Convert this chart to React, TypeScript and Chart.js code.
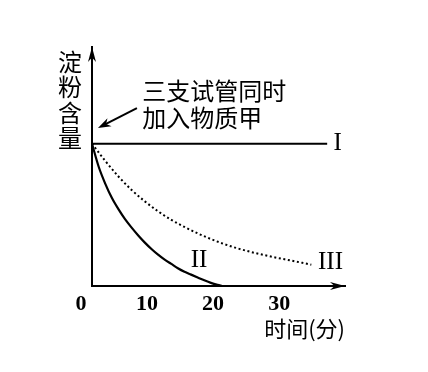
import React, { useEffect, useRef } from "react";
import Chart from "chart.js/auto";

// ---- data ----
const xTicks = [0, 10, 20, 30];
const lineIX = [0, 35.6];
const lineIY = [100, 100];
const curveIIX = [0, 1, 2, 3, 4, 5, 6, 7, 8, 9, 10, 11, 12, 13, 14, 15, 16, 17, 18, 19, 19.7];
const curveIIY = [100, 84, 72, 62, 54, 47, 41, 35.5, 30.5, 26, 22, 18.5, 15.5, 12.5, 10, 8, 6, 4, 2.2, 0.8, 0];
const curveIIIX = [0, 2, 4, 6, 8, 10, 12, 14, 16, 18, 20, 22, 24, 26, 28, 30, 33.2];
const curveIIIY = [100, 88, 77, 67.5, 59.5, 52.5, 46.5, 41.5, 37, 33, 29.5, 26.5, 24, 21.8, 19.8, 18, 15];
const seriesLabels = ["I", "II", "III"];
const yTitleChars = ["淀", "粉", "含", "量"];
const xTitle = "时间(分)";
const noteLines = ["三支试管同时", "加入物质甲"];

const CJK = '"Noto Sans CJK SC", sans-serif';
const SERIF = '"Liberation Serif", "DejaVu Serif", serif';

const pts = (xs: number[], ys: number[]) => xs.map((x, i) => ({ x, y: ys[i] }));

const decorPlugin = {
  id: "decor",
  afterDraw(chart: any) {
    const { ctx, chartArea } = chart;
    const xs = chart.scales.x;
    const ys = chart.scales.y;
    const L = chartArea.left;
    const B = chartArea.bottom;
    ctx.save();
    ctx.fillStyle = "#000";
    ctx.strokeStyle = "#000";
    // arrowheads
    const arrow = (tx: number, ty: number, dx: number, dy: number, len: number, hw: number) => {
      const px = -dy, py = dx;
      ctx.beginPath();
      ctx.moveTo(tx, ty);
      ctx.lineTo(tx - dx * len + px * hw, ty - dy * len + py * hw);
      ctx.lineTo(tx - dx * len * 0.7, ty - dy * len * 0.7);
      ctx.lineTo(tx - dx * len - px * hw, ty - dy * len - py * hw);
      ctx.closePath();
      ctx.fill();
    };
    arrow(L, chartArea.top, 0, -1, 15, 4);
    arrow(chartArea.right, B, 1, 0, 15, 4);

    // annotation arrow
    const ax1 = xs.getPixelForValue(6.8), ay1 = ys.getPixelForValue(125);
    const ax2 = xs.getPixelForValue(0.9), ay2 = ys.getPixelForValue(111);
    const d = Math.hypot(ax2 - ax1, ay2 - ay1);
    const ux = (ax2 - ax1) / d, uy = (ay2 - ay1) / d;
    ctx.lineWidth = 2;
    ctx.beginPath();
    ctx.moveTo(ax1, ay1);
    ctx.lineTo(ax2 - ux * 8, ay2 - uy * 8);
    ctx.stroke();
    arrow(ax2, ay2, ux, uy, 13, 4.5);

    // annotation text
    ctx.font = `24px ${CJK}`;
    ctx.textAlign = "left";
    ctx.textBaseline = "middle";
    ctx.fillText(noteLines[0], xs.getPixelForValue(7.6), ys.getPixelForValue(137));
    ctx.fillText(noteLines[1], xs.getPixelForValue(7.6), ys.getPixelForValue(118));

    // y title stacked
    ctx.textAlign = "center";
    yTitleChars.forEach((c, i) => {
      ctx.fillText(c, L - 22, chartArea.top + 15 + i * 25.3);
    });

    // series labels
    ctx.font = `25px ${SERIF}`;
    ctx.fillText(seriesLabels[0], xs.getPixelForValue(37.2), ys.getPixelForValue(100));
    ctx.fillText(seriesLabels[1], xs.getPixelForValue(16.2), ys.getPixelForValue(18.2));
    ctx.fillText(seriesLabels[2], xs.getPixelForValue(36.1), ys.getPixelForValue(16.4));
    ctx.restore();
  },
};

export default function App() {
  const ref = useRef<HTMLCanvasElement | null>(null);
  useEffect(() => {
    if (!ref.current) return;
    const chart = new Chart(ref.current, {
      type: "line",
      data: {
        datasets: [
          {
            label: seriesLabels[0],
            data: pts(lineIX, lineIY),
            borderColor: "#000",
            borderWidth: 2,
            pointRadius: 0,
          },
          {
            label: seriesLabels[1],
            data: pts(curveIIX, curveIIY),
            borderColor: "#000",
            borderWidth: 2.2,
            pointRadius: 0,
            cubicInterpolationMode: "monotone",
          },
          {
            label: seriesLabels[2],
            data: pts(curveIIIX, curveIIIY),
            borderColor: "#000",
            borderWidth: 2,
            borderDash: [2, 2.6],
            pointRadius: 0,
            cubicInterpolationMode: "monotone",
          },
        ],
      },
      options: {
        animation: false,
        responsive: false,
        devicePixelRatio: 1,
        clip: false,
        layout: { padding: { left: 92, right: 83, top: 47, bottom: 30.6 } },
        plugins: { legend: { display: false }, tooltip: { enabled: false } },
        scales: {
          x: {
            type: "linear",
            min: 0,
            max: 38.3,
            afterBuildTicks: (s: any) => {
              s.ticks = xTicks.map((v) => ({ value: v }));
            },
            grid: { display: false, drawTicks: false },
            border: { display: true, color: "#000", width: 2 },
            ticks: {
              color: "#000",
              padding: 7,
              labelOffset: -11,
              maxRotation: 0,
              autoSkip: false,
              font: { family: SERIF, size: 22, weight: "bold", lineHeight: 1 },
            },
            title: {
              display: true,
              text: xTitle,
              align: "end",
              color: "#000",
              font: { family: CJK, size: 22 },
              padding: { top: -7, bottom: 0 },
            },
          },
          y: {
            type: "linear",
            min: 0,
            max: 168,
            grid: { display: false, drawTicks: false },
            border: { display: true, color: "#000", width: 2 },
            ticks: { display: false },
          },
        },
      },
      plugins: [decorPlugin],
    } as any);
    return () => chart.destroy();
  }, []);
  return (
    <div style={{ position: "fixed", left: 0, top: 0, width: 428, height: 372, background: "#fff" }}>
      <canvas ref={ref} width={428} height={372} />
    </div>
  );
}
